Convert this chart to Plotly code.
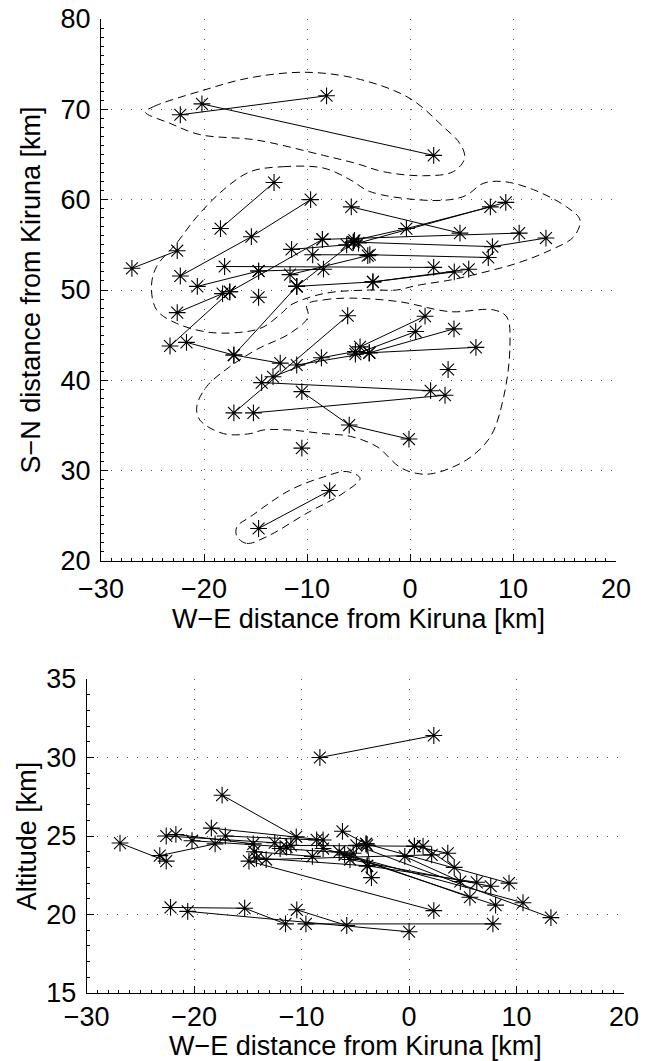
import plotly.graph_objects as go

# ---------------- top panel: tracks (polylines) in W-E / S-N km ----------------
top_tracks_x = [
    [-22.3, -8.1], [-20.2, 2.3],
    [-27.0, -22.6], [-22.3, -15.4, -9.65], [-18.4, -13.2],
    [-5.7, 4.85], [-5.4, -0.35, 7.8], [-5.0, 9.3], [-8.5, 10.6],
    [-5.5, 8.0, 13.2], [-9.45, -3.9, 7.6], [-18.0, 2.3],
    [-11.0, -3.6, 4.3], [-3.6, 5.7], [-17.5, -8.5], [-11.0, -5.5],
    [-11.65, -4.1], [-11.5, -6.15], [-20.65, -14.7], [-14.7, -8.4],
    [-22.6, -18.2], [-23.3, -17.5], [-21.7, -17.1, -12.6], [-17.1, -11.0],
    [-17.1, -6.05], [-15.2, 3.4], [-14.4, 2.0], [-10.5, -5.9, -0.1],
    [-13.3, -8.6, -5.3], [-11.0, -3.95], [-4.85, 1.46], [-5.3, 0.55],
    [-3.95, 4.27], [-3.95, 6.4], [-14.7, -7.8],
]
top_tracks_y = [
    [69.4, 71.5], [70.6, 64.9],
    [52.4, 54.35], [51.55, 55.9, 60.0], [56.8, 61.9],
    [59.2, 56.3], [55.5, 56.8, 59.2], [55.2, 59.7], [55.6, 56.3],
    [55.3, 54.8, 55.75], [53.9, 53.9, 53.6], [52.6, 52.5],
    [50.4, 50.9, 52.0], [50.9, 52.3], [49.8, 55.6], [50.4, 55.3],
    [51.7, 53.8], [54.5, 55.0], [50.4, 52.1], [52.1, 52.3],
    [47.5, 49.6], [43.8, 49.8], [44.2, 42.8, 41.9], [42.8, 50.4],
    [36.4, 47.15], [36.4, 38.35], [39.75, 38.85], [38.75, 35.05, 33.5],
    [40.4, 42.5, 43.2], [41.7, 43.05], [43.7, 47.1], [42.9, 45.4],
    [43.05, 45.7], [43.05, 43.65], [23.6, 27.8],
]
top_single_x = [-10.5, 3.7, -14.7]
top_single_y = [32.5, 41.2, 49.2]

# dashed density contours (closed curves)
contours_x = [
    [-25.7, -24.9, -20.1, -15.5, -10.0, -4.8, 0.0, 3.2, 4.85, 5.3, 4.2, 1.3,
     -2.6, -5.2, -8.4, -14.9, -20.4, -23.3],
    [-15.5, -12.3, -8.4, -5.8, -3.9, 0.65, 3.9, 5.5, 7.1, 9.1, 12.0, 15.2, 16.5,
     15.9, 13.6, 10.35, 5.5, 3.9, 0.65, -1.3, -3.9, -8.4, -11.65, -12.3, -14.25,
     -15.85, -19.4, -22.65, -24.6, -25.1, -24.6, -22.65, -20.7, -18.1],
    [-10.0, -8.4, -5.8, -1.0, 3.9, 8.1, 9.4, 9.7, 9.1, 7.8, 5.5, 2.3, 0.65, -1.0,
     -3.2, -5.8, -8.4, -11.65, -14.25, -15.5, -18.1, -20.4, -20.7, -19.75, -17.5,
     -14.9, -11.65, -9.9],
    [-16.8, -15.85, -13.9, -10.0, -6.5, -4.85, -6.15, -8.4, -11.65, -15.5, -16.8],
]
contours_y = [
    [69.7, 70.3, 72.1, 73.5, 74.1, 73.3, 71.2, 68.1, 66.2, 64.6, 63.1, 62.65,
     63.1, 64.0, 64.9, 66.6, 67.2, 68.45],
    [63.1, 63.65, 63.5, 62.2, 60.9, 60.0, 60.0, 60.5, 61.8, 62.0, 61.1, 59.2, 57.75,
     55.9, 54.4, 52.95, 51.5, 51.1, 50.5, 50.0, 50.0, 49.6, 48.3, 47.6, 45.9,
     45.4, 45.3, 46.3, 47.8, 50.4, 52.6, 55.2, 58.1, 61.1],
    [48.4, 48.9, 49.1, 48.7, 47.6, 47.8, 47.0, 43.7, 38.2, 33.75, 31.2, 29.7, 29.7, 30.4,
     32.65, 33.8, 34.1, 34.5, 34.5, 34.1, 34.1, 35.6, 37.1, 39.3, 41.5,
     43.4, 45.2, 47.0],
    [22.7, 21.95, 22.7, 25.3, 27.5, 29.15, 29.9, 29.3, 27.85, 24.9, 23.8],
]

# ---------------- bottom panel: tracks in W-E km / altitude km ----------------
bot_tracks_x = [
    [-26.9, -22.6], [-23.2, -18.05], [-22.6, -12.5], [-21.7, -14.5], [-20.2, -11.4],
    [-18.4, -8.0], [-17.4, -10.5], [-17.1, -8.6], [-6.2, -4.0], [-8.3, 2.3],
    [-22.2, -15.3, -11.5], [-20.6, 0.0], [-10.45, -5.8], [-9.6, 7.8],
    [-14.9, 2.3], [-14.2, -3.9], [-13.3, 2.1], [-4.9, 13.2], [-8.0, 10.6],
    [-4.0, 9.3], [-6.0, 8.05], [-5.5, 7.6], [-3.9, 6.3], [-6.5, 5.66],
    [-11.0, 0.5], [-0.4, 4.77], [1.3, 4.2], [0.5, 3.6], [-3.9, -3.5],
    [-14.4, -9.0], [-12.0, -5.2],
]
bot_tracks_y = [
    [24.55, 23.4], [23.75, 24.5], [25.0, 24.57], [25.1, 24.5], [24.7, 24.3],
    [25.5, 24.75], [27.6, 24.95], [25.0, 24.75], [25.3, 24.5], [30.0, 31.4],
    [20.45, 20.4, 19.4], [20.2, 18.9], [20.3, 19.3], [19.4, 19.4],
    [23.4, 20.25], [23.6, 23.1], [23.5, 23.8], [24.4, 19.8], [24.2, 20.75],
    [24.5, 22.0], [23.8, 20.6], [23.5, 21.8], [23.1, 22.05], [24.0, 21.1],
    [24.4, 24.35], [23.7, 22.1], [24.35, 23.0], [24.35, 23.9], [24.4, 22.35],
    [24.0, 23.7], [24.2, 23.9],
]

x_ticks = [-30, -20, -10, 0, 10, 20]
top_y_ticks = [20, 30, 40, 50, 60, 70, 80]
bot_y_ticks = [15, 20, 25, 30, 35]


def join(tracks):
    out = []
    for t in tracks:
        out += list(t) + [None]
    return out


FONT = "Liberation Sans, Arial, Helvetica, sans-serif"
FS = 27
marker = dict(symbol="asterisk-open", size=14, color="black",
              line=dict(color="black", width=1.1))

fig = go.Figure()

# contours (top)
cx, cy = [], []
for xs, ys in zip(contours_x, contours_y):
    cx += list(xs) + [xs[0], None]
    cy += list(ys) + [ys[0], None]
fig.add_trace(go.Scatter(x=cx, y=cy, mode="lines", line_shape="spline",
                         line=dict(color="black", width=1, dash="8px,5px"),
                         xaxis="x", yaxis="y", hoverinfo="skip"))

fig.add_trace(go.Scatter(x=join(top_tracks_x), y=join(top_tracks_y),
                         mode="lines+markers", line=dict(color="black", width=1),
                         marker=marker, xaxis="x", yaxis="y"))
fig.add_trace(go.Scatter(x=top_single_x, y=top_single_y, mode="markers",
                         marker=marker, xaxis="x", yaxis="y"))

fig.add_trace(go.Scatter(x=join(bot_tracks_x), y=join(bot_tracks_y),
                         mode="lines+markers", line=dict(color="black", width=1),
                         marker=marker, xaxis="x2", yaxis="y2"))

W, H = 650, 1061
common = dict(showline=True, linecolor="black", linewidth=1, mirror=False,
              ticks="inside", ticklen=7, tickcolor="black", tickwidth=1,
              showgrid=True, gridcolor="#555", griddash="1px,9px", gridwidth=1,
              zeroline=False, automargin=False,
              tickfont=dict(family=FONT, size=FS, color="black"),
              title_font=dict(family=FONT, size=FS, color="black"))
minor = dict(ticks="inside", ticklen=3, dtick=1, tickcolor="black", showgrid=False)

fig.update_layout(
    width=W, height=H, margin=dict(l=0, r=0, t=0, b=0, autoexpand=False),
    paper_bgcolor="white", plot_bgcolor="white", showlegend=False,
    xaxis=dict(common, domain=[101 / W, 616 / W], range=[-30, 20], anchor="y",
               tickvals=x_ticks, minor=minor, ticklabelstandoff=4,
               title=dict(text="W\u2212E distance from Kiruna [km]", standoff=4)),
    yaxis=dict(common, domain=[1 - 561 / H, 1 - 19 / H], range=[20, 80], anchor="x",
               tickvals=top_y_ticks, minor=minor, ticklabelstandoff=4,
               title=dict(text="S\u2212N distance from Kiruna [km]", standoff=12)),
    xaxis2=dict(common, domain=[86.7 / W, 624 / W], range=[-30, 20], anchor="y2",
                tickvals=x_ticks, minor=minor, ticklabelstandoff=0,
                title=dict(text="W\u2212E distance from Kiruna [km]", standoff=7)),
    yaxis2=dict(common, domain=[1 - 993 / H, 1 - 679 / H], range=[15, 35], anchor="x2",
                tickvals=bot_y_ticks, minor=minor, ticklabelstandoff=4,
                title=dict(text="Altitude [km]", standoff=1)),
)

fig.write_html("out.html")
